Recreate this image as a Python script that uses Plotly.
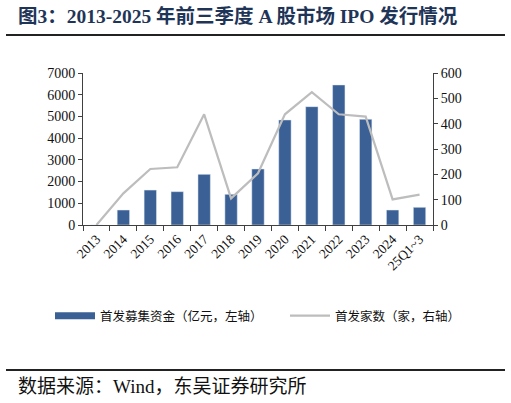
import plotly.graph_objects as go

# 数据
years = ["2013", "2014", "2015", "2016", "2017", "2018", "2019",
         "2020", "2021", "2022", "2023", "2024", "25Q1~3"]
raise_amount = [0, 690, 1610, 1535, 2335, 1414, 2580,
                4837, 5450, 6450, 4870, 690, 815]   # 首发募集资金（亿元）
ipo_count = [0, 125, 221, 228, 437, 105, 204,
             437, 524, 437, 428, 101, 120]          # 首发家数（家）

BAR_COLOR = "#3A6095"
LINE_COLOR = "#BDBDBD"
AXIS_COLOR = "#404040"
FONT = "Liberation Serif, Noto Sans CJK SC"

W, H = 511, 403
L, R, T, B = 83, 78, 73, 178
pw, ph = W - L - R, H - T - B


def px(x):
    return (x - L) / pw


def py(y):
    return (H - B - y) / ph


fig = go.Figure()

fig.add_trace(go.Bar(
    x=years, y=raise_amount, name="首发募集资金（亿元，左轴）",
    marker_color=BAR_COLOR, showlegend=False, yaxis="y",
))
fig.add_trace(go.Scatter(
    x=years, y=ipo_count, name="首发家数（家，右轴）", mode="lines",
    line=dict(color=LINE_COLOR, width=2.2), yaxis="y2", showlegend=False,
))
# legend entries (wide swatches like the original)
fig.add_trace(go.Scatter(
    x=[None], y=[None], mode="lines", name="首发募集资金（亿元，左轴）",
    line=dict(color=BAR_COLOR, width=7), legend="legend",
))
fig.add_trace(go.Scatter(
    x=[None], y=[None], mode="lines", name="首发家数（家，右轴）",
    line=dict(color=LINE_COLOR, width=2.2), legend="legend2",
))

legend_style = dict(
    orientation="h", yanchor="middle", xanchor="left", itemwidth=40,
    font=dict(size=12.5, family="Noto Sans CJK SC"), itemclick=False,
    bgcolor="rgba(0,0,0,0)",
)

fig.update_layout(
    width=W, height=H,
    margin=dict(l=L, r=R, t=T, b=B),
    paper_bgcolor="white", plot_bgcolor="white",
    font=dict(family=FONT, size=12, color="#111111"),
    bargap=0.54,
    xaxis=dict(
        type="category", tickangle=-45, showline=True, linecolor=AXIS_COLOR,
        linewidth=1, ticks="outside", tickson="boundaries", ticklen=5,
        tickcolor=AXIS_COLOR, showgrid=False, tickfont=dict(size=13.5),
    ),
    yaxis=dict(
        range=[0, 7000], dtick=1000, showline=True, linecolor=AXIS_COLOR,
        ticks="outside", ticklen=4, tickcolor=AXIS_COLOR, showgrid=False,
        zeroline=False, tickfont=dict(size=14),
    ),
    yaxis2=dict(
        range=[0, 600], dtick=100, overlaying="y", side="right",
        showline=True, linecolor=AXIS_COLOR, ticks="outside", ticklen=4,
        tickcolor=AXIS_COLOR, showgrid=False, zeroline=False,
        tickfont=dict(size=14),
    ),
    legend=dict(x=px(50), y=py(316), **legend_style),
    legend2=dict(x=px(285), y=py(316), **legend_style),
    showlegend=True,
)

# title, rules and source
fig.add_annotation(
    text="<b>图3：2013-2025 年前三季度 A 股市场 IPO 发行情况</b>",
    xref="paper", yref="paper", x=px(16), y=py(16), xanchor="left",
    yanchor="middle", showarrow=False,
    font=dict(size=19.5, color="#1F3558", family=FONT),
)
fig.add_shape(type="line", xref="paper", yref="paper",
              x0=px(6), x1=px(505), y0=py(35), y1=py(35),
              line=dict(color="#222222", width=2))
fig.add_shape(type="line", xref="paper", yref="paper",
              x0=px(6), x1=px(505), y0=py(370), y1=py(370),
              line=dict(color="#222222", width=2))
fig.add_annotation(
    text="数据来源：Wind，东吴证券研究所",
    xref="paper", yref="paper", x=px(16), y=py(386), xanchor="left",
    yanchor="middle", showarrow=False,
    font=dict(size=19, color="#111111", family=FONT),
)

fig.write_html("out.html", config={"displayModeBar": False},
               post_script="document.body.style.margin='0';")
